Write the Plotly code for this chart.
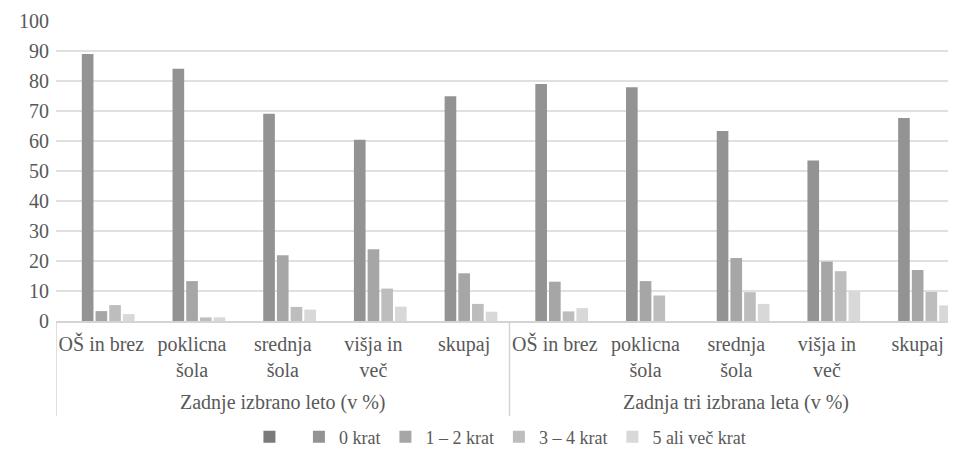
import plotly.graph_objects as go

groups = ["Zadnje izbrano leto (v %)", "Zadnja tri izbrana leta (v %)"]
education = ["OŠ in brez", "poklicna<br>šola", "srednja<br>šola", "višja in<br>več", "skupaj"]

series_names = [" ", "0 krat", "1 – 2 krat", "3 – 4 krat", "5 ali več krat"]
series_colors = ["#7a7a7a", "#939393", "#a6a6a6", "#bdbdbd", "#d8d8d8"]

blank = [None] * 10
krat0 = [89.0, 84.1, 69.1, 60.4, 74.9, 79.0, 77.9, 63.3, 53.5, 67.7]
krat12 = [3.3, 13.3, 21.9, 23.9, 15.9, 13.1, 13.3, 21.0, 19.8, 17.0]
krat34 = [5.3, 1.2, 4.7, 10.8, 5.7, 3.2, 8.5, 9.6, 16.6, 9.7]
krat5 = [2.3, 1.2, 3.8, 4.8, 3.1, 4.3, 0.0, 5.7, 9.9, 5.2]

values = [blank, krat0, krat12, krat34, krat5]

inner = education * len(groups)
positions = list(range(len(inner)))
n_per_group = len(education)

fig = go.Figure()
for name, color, vals in zip(series_names, series_colors, values):
    fig.add_trace(go.Bar(x=positions, y=vals, name=name,
                         marker=dict(color=color, line=dict(width=0))))

font = "Liberation Serif"
grey_text = "#595959"
line_col = "#d4d4d4"

# outer group labels and dividers of the two-level category axis
for gi, g in enumerate(groups):
    center = gi * n_per_group + (n_per_group - 1) / 2
    fig.add_annotation(x=center, xref="x", y=-0.273, yref="paper", yanchor="middle",
                       text=g, showarrow=False,
                       font=dict(family=font, size=20, color=grey_text))
for gi in range(len(groups) + 1):
    xd = gi * n_per_group - 0.5
    fig.add_shape(type="line", xref="x", yref="paper", x0=xd, x1=xd, y0=0, y1=-0.317,
                  line=dict(color=line_col, width=1.5))

fig.update_layout(
    width=956, height=452,
    margin=dict(l=48, r=1, t=13, b=139),
    plot_bgcolor="white", paper_bgcolor="white",
    barmode="group", bargap=0.245, bargroupgap=0.15,
    font=dict(family=font, size=20, color=grey_text),
    showlegend=True,
    legend=dict(orientation="h", x=0.49, xanchor="center", y=-0.387, yanchor="middle",
                font=dict(family=font, size=18, color=grey_text),
                itemwidth=30, traceorder="normal"),
    xaxis=dict(range=[-0.5, 9.5], tickmode="array", tickvals=positions, ticktext=inner,
               automargin=False, showgrid=False, zeroline=False,
               showline=True, linecolor=line_col, linewidth=1.5,
               ticks="", ticklabelstandoff=4,
               tickfont=dict(family=font, size=20, color=grey_text)),
    yaxis=dict(range=[0, 100], dtick=10, showgrid=True, gridcolor="#e0e0e0", gridwidth=1.5,
               zeroline=False, showline=False, ticks="", automargin=False,
               ticklabelstandoff=6,
               tickfont=dict(family=font, size=20, color=grey_text)),
)

fig.write_html("out.html")
